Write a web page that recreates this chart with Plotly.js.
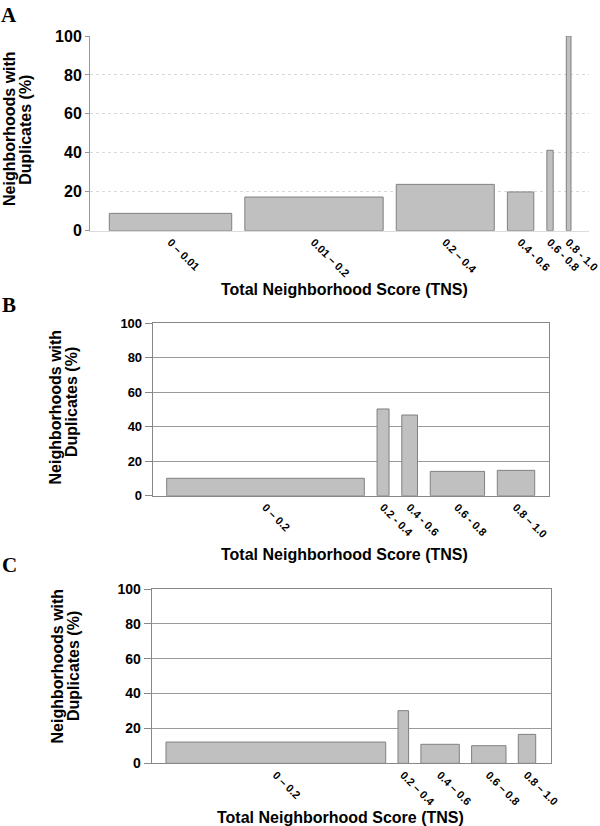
<!DOCTYPE html>
<html>
<head>
<meta charset="utf-8">
<script src="https://cdn.plot.ly/plotly-3.0.1.min.js"></script>
<style>html,body{margin:0;padding:0;background:#fff;}#chart{width:600px;height:826px;}</style>
</head>
<body>
<div id="chart"></div>
<script>
// ---- data ----
const labelsA = ["0 \u2013 0.01", "0.01 \u2013 0.2", "0.2 \u2013 0.4", "0.4 - 0.6", "0.6 - 0.8", "0.8 - 1.0"];
const valuesA = [8.9, 17.3, 23.8, 19.9, 41.3, 100];
const binWidthsA = [122.4, 138.3, 98, 26.4, 6.3, 4.7];

const labelsB = ["0 \u2013 0.2", "0.2 - 0.4", "0.4 - 0.6", "0.6 - 0.8", "0.8 \u2013 1.0"];
const valuesB = [10.1, 50.3, 46.8, 14.1, 14.7];
const binWidthsB = [197.6, 12, 15.7, 54.3, 37.4];

const labelsC = ["0 \u2013 0.2", "0.2 \u2013 0.4", "0.4 \u2013 0.6", "0.6 \u2013 0.8", "0.8 \u2013 1.0"];
const valuesC = [12.2, 30.2, 10.9, 10.1, 16.6];
const binWidthsC = [219.7, 10.6, 38.4, 34.4, 17.4];

const yTickVals = [0, 20, 40, 60, 80, 100];
const xTitle = "Total Neighborhood Score (TNS)";
const yTitle1 = "Neighborhoods with";
const yTitle2 = "Duplicates (%)";

// ---- layout helpers ----
const W = 600, H = 826;
const FONT = "Liberation Sans, Arial, Helvetica, sans-serif";
function layoutBars(widths, pad, gap, padR) {
  const centers = [];
  let pos = pad;
  widths.forEach((w, i) => {
    centers.push(pos + w / 2);
    pos += w + (i < widths.length - 1 ? gap : 0);
  });
  return {centers: centers, total: pos + padR};
}
const LA = layoutBars(binWidthsA, 19.3, 13.1, 18.3);
const LB = layoutBars(binWidthsB, 14, 12.75, 14.6);
const LC = layoutBars(binWidthsC, 14.3, 12.3, 15);

const barStyle = {color: "#c0c0c0", line: {color: "#808080", width: 1}};
function barTrace(L, widths, vals, xa, ya) {
  return {type: "bar", x: L.centers, y: vals, width: widths, xaxis: xa, yaxis: ya,
    marker: barStyle, hoverinfo: "skip", showlegend: false};
}
const data = [
  barTrace(LA, binWidthsA, valuesA, "x", "y"),
  barTrace(LB, binWidthsB, valuesB, "x2", "y2"),
  barTrace(LC, binWidthsC, valuesC, "x3", "y3")
];

function px(x) { return x / W; }
function py(y) { return 1 - y / H; }

function xAxis(L, labels, dom, framed) {
  return {
    domain: dom, range: [0, L.total], fixedrange: true,
    tickmode: "array", tickvals: L.centers, ticktext: labels, tickangle: 45,
    tickfont: {family: FONT, size: 11, weight: "bold", color: "#000"},
    ticklabeloverflow: "allow",
    ticks: "", showgrid: false, zeroline: false,
    showline: true, linecolor: framed ? "#888" : "#dcdcdc", linewidth: 1,
    mirror: framed ? true : false
  };
}
function yAxis(dom, anchor, framed, fsize) {
  return {
    domain: dom, range: [0, 100], fixedrange: true, anchor: anchor,
    tickmode: "array", tickvals: yTickVals,
    tickfont: {family: FONT, size: fsize, weight: "bold", color: "#000"},
    ticks: "outside", ticklen: framed ? 7 : 4, tickcolor: framed ? "#888" : "#999",
    showgrid: true, gridcolor: framed ? "#9a9a9a" : "#dadada", griddash: framed ? "solid" : "dot",
    gridwidth: 1, zeroline: false,
    showline: true, linecolor: framed ? "#888" : "#999", linewidth: 1,
    mirror: framed ? true : false
  };
}

const layout = {
  width: W, height: H, margin: {l: 0, r: 0, t: 0, b: 0},
  paper_bgcolor: "#fff", plot_bgcolor: "#fff", showlegend: false, bargap: 0,
  xaxis: Object.assign(xAxis(LA, labelsA, [px(90), px(589.3)], false), {anchor: "y"}),
  yaxis: yAxis([py(230.7), py(36)], "x", false, 16),
  xaxis2: Object.assign(xAxis(LB, labelsB, [px(152.7), px(549.3)], true), {anchor: "y2"}),
  yaxis2: yAxis([py(495.7), py(323.3)], "x2", true, 13),
  xaxis3: Object.assign(xAxis(LC, labelsC, [px(151.7), px(550.7)], true), {anchor: "y3"}),
  yaxis3: yAxis([py(763.3), py(589)], "x3", true, 14),
  annotations: []
};

function ann(text, x, y, opts) {
  return Object.assign({text: text, xref: "paper", yref: "paper", x: px(x), y: py(y),
    showarrow: false, xanchor: "center", yanchor: "middle",
    font: {family: FONT, size: 16, weight: "bold", color: "#000"}}, opts || {});
}
const letterFont = {family: "Liberation Serif, Times New Roman, serif", size: 21, weight: "bold", color: "#000"};
layout.annotations.push(
  ann("A", 9, 15, {font: letterFont}),
  ann("B", 9, 305, {font: letterFont}),
  ann("C", 9, 565, {font: letterFont}),
  ann(xTitle, 344, 289),
  ann(xTitle, 344, 554),
  ann(xTitle, 340, 817),
  ann(yTitle1, 10, 129, {textangle: -90}),
  ann(yTitle2, 25.8, 130, {textangle: -90}),
  ann(yTitle1, 55, 406.5, {textangle: -90}),
  ann(yTitle2, 71.5, 402.5, {textangle: -90}),
  ann(yTitle1, 57, 666.5, {textangle: -90}),
  ann(yTitle2, 73, 666, {textangle: -90})
);

Plotly.newPlot("chart", data, layout, {staticPlot: true, displayModeBar: false});
</script>
</body>
</html>
